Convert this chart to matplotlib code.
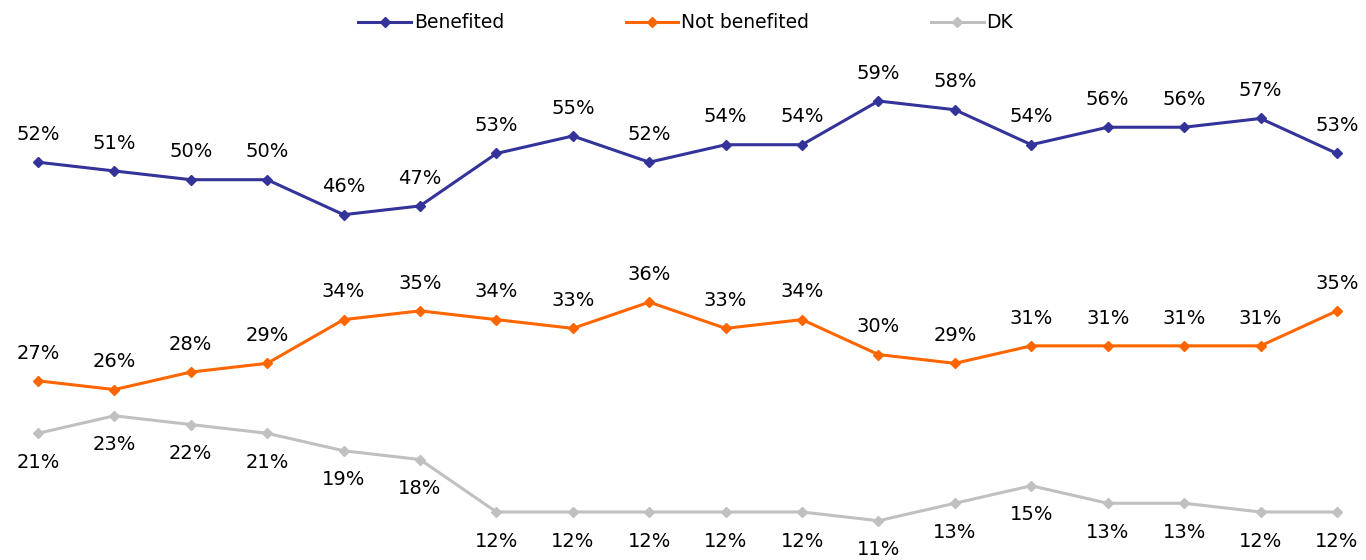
import numpy as np
import matplotlib.pyplot as plt

plt.rcParams['font.family'] = ['DejaVu Sans']

benefited = [52, 51, 50, 50, 46, 47, 53, 55, 52, 54, 54, 59, 58, 54, 56, 56, 57, 53]
not_benefited = [27, 26, 28, 29, 34, 35, 34, 33, 36, 33, 34, 30, 29, 31, 31, 31, 31, 35]
dk = [21, 23, 22, 21, 19, 18, 12, 12, 12, 12, 12, 11, 13, 15, 13, 13, 12, 12]
names = ['Benefited', 'Not benefited', 'DK']
colors = ['#333399', '#FF6600', '#C0C0C0']

x = np.arange(len(benefited))

fig = plt.figure(figsize=(13.66, 5.6), dpi=100)
ax = fig.add_axes([0, 0, 1, 1])
ax.set_xlim(-0.497, 17.38)
ax.set_ylim(6.51, 70.55)
ax.axis('off')

series = [benefited, not_benefited, dk]
offsets = [20, 20, -21]
for vals, name, col, off in zip(series, names, colors, offsets):
    ax.plot(x, vals, color=col, lw=2.2, marker='D', ms=5.5, label=name)
    for xi, v in zip(x, vals):
        ax.annotate(f'{v}%', (xi, v), xytext=(0, off), textcoords='offset points',
                    ha='center', va='center', fontsize=14, color='black')

ax.legend(loc='upper center', bbox_to_anchor=(0.502, 1.0), ncol=3, frameon=False,
          fontsize=13.5, columnspacing=6.5, handlelength=2.8, handletextpad=0.15,
          borderaxespad=0.3)

fig.savefig('out.png', dpi=100)
